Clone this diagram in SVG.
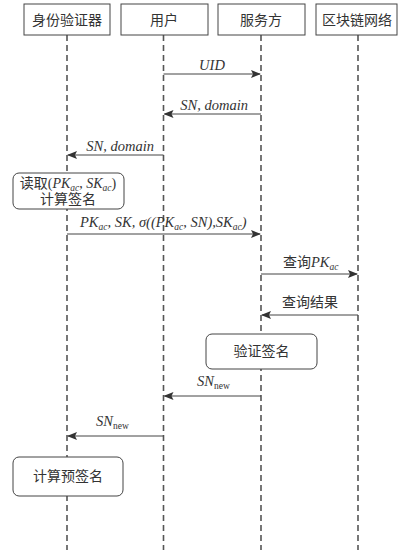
<svg xmlns="http://www.w3.org/2000/svg" width="414" height="554" viewBox="0 0 414 554">
<style>
.hdr{fill:#fff;stroke:#444;stroke-width:1}
.t{font-family:"Liberation Serif","Noto Sans CJK SC",serif;font-size:14px;fill:#333}
.i{font-style:italic}
.l{font-size:14.5px}
.sub{font-size:9.5px}
.life{stroke:#555;stroke-width:1.6;stroke-dasharray:6,4}
.msg{stroke:#444;stroke-width:1;fill:none}
.box{fill:#fff;stroke:#444;stroke-width:1}
</style>
<defs>
<marker id="ah" markerWidth="10" markerHeight="8" refX="9" refY="4" orient="auto" markerUnits="userSpaceOnUse">
<path d="M0,0 L10,4 L0,8 L2,4 Z" fill="#333"/>
</marker>
</defs>
<rect width="414" height="554" fill="#fff"/>
<g id="lifelines">
<line class="life" x1="67" y1="35" x2="67" y2="550"/>
<line class="life" x1="163.5" y1="35" x2="163.5" y2="550"/>
<line class="life" x1="261" y1="35" x2="261" y2="550"/>
<line class="life" x1="358" y1="35" x2="358" y2="550"/>
</g>
<g id="authenticator">
<rect class="hdr" x="24" y="4" width="86" height="31"/>
<text class="t" x="67" y="25" text-anchor="middle">身份验证器</text>
</g>
<g id="user">
<rect class="hdr" x="121" y="4" width="87" height="31"/>
<text class="t" x="164" y="25" text-anchor="middle">用户</text>
</g>
<g id="server">
<rect class="hdr" x="218" y="4" width="87" height="31"/>
<text class="t" x="261" y="25" text-anchor="middle">服务方</text>
</g>
<g id="blockchain">
<rect class="hdr" x="316" y="4" width="81" height="31"/>
<text class="t" x="357" y="25" text-anchor="middle">区块链网络</text>
</g>
<g id="read">
<rect class="box" x="13" y="173" width="111" height="36" rx="6"/>
<text class="t" x="68" y="188" text-anchor="middle">读取(<tspan class="i">PK</tspan><tspan class="i sub" dy="3">ac</tspan><tspan dy="-3">, </tspan><tspan class="i">SK</tspan><tspan class="i sub" dy="3">ac</tspan><tspan dy="-3">)</tspan></text>
<text class="t" x="68" y="204" text-anchor="middle">计算签名</text>
</g>
<g id="verify">
<rect class="box" x="206" y="334" width="111" height="35" rx="6"/>
<text class="t" x="261.5" y="356" text-anchor="middle">验证签名</text>
</g>
<g id="presign">
<rect class="box" x="13" y="457" width="110" height="39" rx="6"/>
<text class="t" x="68" y="481" text-anchor="middle">计算预签名</text>
</g>
<g id="connectors">
<line class="msg" x1="163.5" y1="74" x2="260" y2="74" marker-end="url(#ah)"/>
<text class="t i l" x="212" y="70" text-anchor="middle">UID</text>
<line class="msg" x1="261" y1="114" x2="164.5" y2="114" marker-end="url(#ah)"/>
<text class="t i l" x="248" y="110" text-anchor="end">SN, domain</text>
<line class="msg" x1="163.5" y1="155" x2="68" y2="155" marker-end="url(#ah)"/>
<text class="t i l" x="154" y="151" text-anchor="end">SN, domain</text>
<line class="msg" x1="67" y1="234" x2="260" y2="234" marker-end="url(#ah)"/>
<text class="t i l" x="80" y="227"><tspan>PK</tspan><tspan class="sub" dy="3">ac</tspan><tspan dy="-3">, SK, σ((PK</tspan><tspan class="sub" dy="3">ac</tspan><tspan dy="-3">, SN),SK</tspan><tspan class="sub" dy="3">ac</tspan><tspan dy="-3">)</tspan></text>
<line class="msg" x1="261" y1="274" x2="357" y2="274" marker-end="url(#ah)"/>
<text class="t" x="283" y="267">查询<tspan class="i l">PK</tspan><tspan class="i sub" dy="3">ac</tspan></text>
<line class="msg" x1="358" y1="315" x2="262" y2="315" marker-end="url(#ah)"/>
<text class="t" x="310" y="307" text-anchor="middle">查询结果</text>
<line class="msg" x1="261" y1="396" x2="164.5" y2="396" marker-end="url(#ah)"/>
<text class="t" x="197" y="386"><tspan class="i l">SN</tspan><tspan class="sub" dy="3">new</tspan></text>
<line class="msg" x1="163.5" y1="436" x2="68" y2="436" marker-end="url(#ah)"/>
<text class="t" x="96" y="426"><tspan class="i l">SN</tspan><tspan class="sub" dy="3">new</tspan></text>
</g>
</svg>
